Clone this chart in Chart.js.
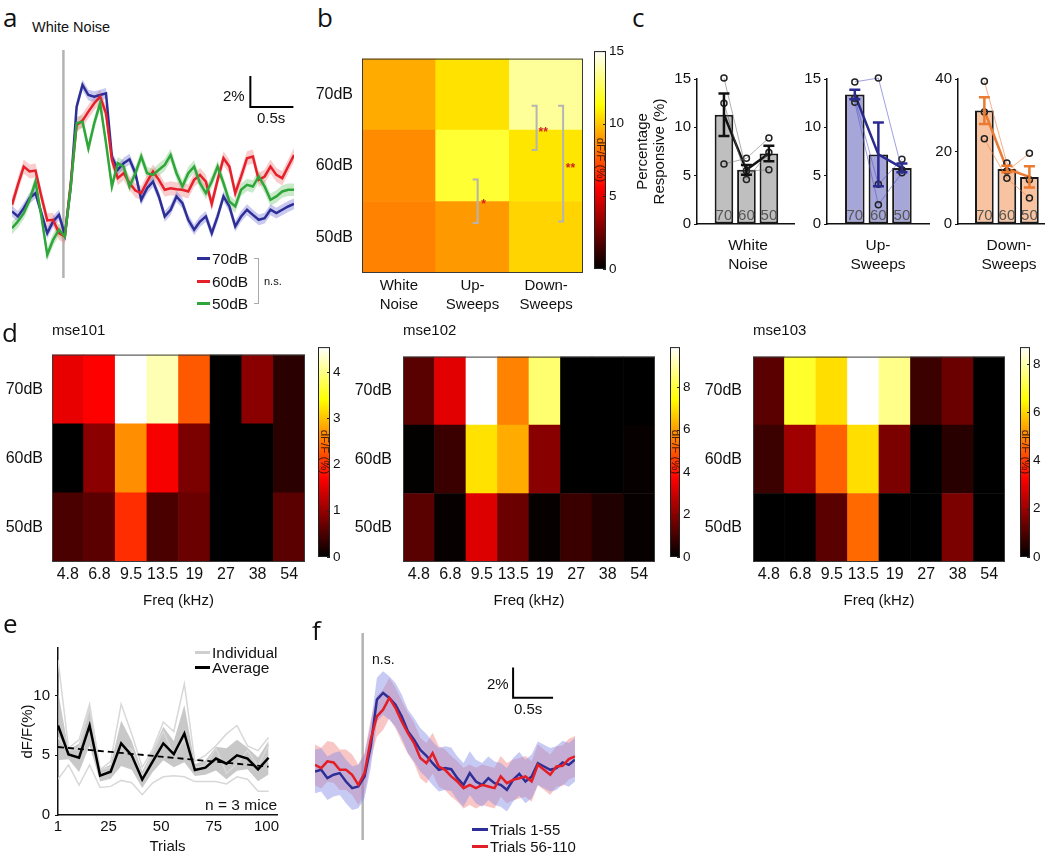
<!DOCTYPE html>
<html>
<head>
<meta charset="utf-8">
<title>Sound-evoked responses</title>
<script src="https://cdn.jsdelivr.net/npm/chart.js@4.4.1/dist/chart.umd.min.js"></script>
<style>
  html, body { margin: 0; padding: 0; background: #fff; }
  #fig { position: relative; width: 1050px; height: 858px; overflow: hidden;
         font-family: "Liberation Sans", Arial, sans-serif; color: #111; }
  #fig canvas { position: absolute; }
  .t { position: absolute; line-height: 1; white-space: nowrap; }
  .letter { font-family: "Open Sans", sans-serif; font-size: 26px; }
  .key { position: absolute; height: 0; border-top: 3px solid; }
  .cap { position: absolute; width: 120px; text-align: center; font-size: 15.5px; line-height: 19px; }
</style>
</head>
<body>
<div id="fig">
  <canvas id="chartA" width="282" height="228" style="left:12px;top:50px"></canvas>
  <canvas id="chartB" width="290" height="273" style="left:300px;top:40px"></canvas>
  <canvas id="barB" width="30" height="240" style="left:594px;top:40px"></canvas>
  <canvas id="chartC1" width="175" height="169" style="left:625px;top:67px"></canvas>
  <canvas id="chartC2" width="135" height="169" style="left:800px;top:67px"></canvas>
  <canvas id="chartC3" width="118" height="169" style="left:932px;top:67px"></canvas>
  <canvas id="chartD1" width="310" height="278" style="left:0px;top:336px"></canvas>
  <canvas id="barD1" width="30" height="232" style="left:318px;top:336px"></canvas>
  <canvas id="chartD2" width="315" height="278" style="left:345px;top:336px"></canvas>
  <canvas id="barD2" width="25" height="232" style="left:670px;top:336px"></canvas>
  <canvas id="chartD3" width="315" height="278" style="left:695px;top:336px"></canvas>
  <canvas id="barD3" width="28" height="232" style="left:1020px;top:336px"></canvas>
  <canvas id="chartE" width="285" height="224" style="left:0px;top:634px"></canvas>
  <canvas id="chartF" width="260" height="207" style="left:315px;top:633px"></canvas>

  <!-- panel letters -->
  <div class="t letter" style="left:3px;top:4px">a</div>
  <div class="t letter" style="left:317px;top:4px">b</div>
  <div class="t letter" style="left:632px;top:4px">c</div>
  <div class="t letter" style="left:2px;top:319px">d</div>
  <div class="t letter" style="left:3px;top:610px">e</div>
  <div class="t letter" style="left:312px;top:617px">f</div>

  <!-- a -->
  <div class="t" style="left:32px;top:20px;font-size:14.5px">White Noise</div>
  <div class="t" style="left:223px;top:88px;font-size:15px">2%</div>
  <div class="t" style="left:257px;top:110px;font-size:15px">0.5s</div>
  <div class="key" style="left:197px;top:257px;width:13px;border-color:#2d2f96"></div>
  <div class="key" style="left:197px;top:280px;width:13px;border-color:#e5202b"></div>
  <div class="key" style="left:197px;top:302px;width:13px;border-color:#2fa63a"></div>
  <div class="t" style="left:212px;top:251px;font-size:15.5px">70dB</div>
  <div class="t" style="left:212px;top:274px;font-size:15.5px">60dB</div>
  <div class="t" style="left:212px;top:296px;font-size:15.5px">50dB</div>
  <div style="position:absolute;left:254px;top:258px;width:4px;height:44px;border:1.5px solid #aaa;border-left:none"></div>
  <div class="t" style="left:264px;top:276px;font-size:11px">n.s.</div>

  <!-- c group captions -->
  <div class="cap" style="left:688px;top:235px">White<br>Noise</div>
  <div class="cap" style="left:818px;top:235px">Up-<br>Sweeps</div>
  <div class="cap" style="left:949px;top:235px">Down-<br>Sweeps</div>

  <!-- d titles -->
  <div class="t" style="left:52px;top:322px;font-size:15px">mse101</div>
  <div class="t" style="left:403px;top:322px;font-size:15px">mse102</div>
  <div class="t" style="left:753px;top:322px;font-size:15px">mse103</div>

  <!-- e legend -->
  <div class="key" style="left:195px;top:651px;width:15px;border-color:#cfcfcf"></div>
  <div class="key" style="left:195px;top:666px;width:15px;border-color:#000"></div>
  <div class="t" style="left:212px;top:645px;font-size:15.5px">Individual</div>
  <div class="t" style="left:212px;top:660px;font-size:15.5px">Average</div>
  <div class="t" style="right:773px;top:797px;font-size:15.5px">n = 3 mice</div>

  <!-- f -->
  <div class="t" style="left:372px;top:652px;font-size:14px">n.s.</div>
  <div class="t" style="left:487px;top:676px;font-size:15px">2%</div>
  <div class="t" style="left:514px;top:701px;font-size:15px">0.5s</div>
  <div class="key" style="left:472px;top:828px;width:16px;border-color:#2d2f96"></div>
  <div class="key" style="left:472px;top:845px;width:16px;border-color:#e41e26"></div>
  <div class="t" style="left:490px;top:822px;font-size:15px">Trials 1-55</div>
  <div class="t" style="left:490px;top:839px;font-size:15px">Trials 56-110</div>
</div>

<script>
// ----- a: white-noise traces, dF/F (%) per imaging frame -----
const traceA70 = [1.40, 1.08, 1.61, 2.26, 2.58, 1.29, 0.00, 0.75, 1.18, -0.11, 3.01, 8.17, 9.57, 8.92, 8.82, 8.92, 9.03, 4.95, 4.09, 4.52, 4.77, 3.87, 2.15, 2.90, 3.33, 2.37, 1.08, 1.51, 2.37, 1.94, 0.86, 0.22, 0.75, 1.08, 0.00, 1.08, 2.37, 1.72, 0.43, 1.08, 1.51, 1.18, 0.86, 0.97, 1.51, 1.29, 1.51, 1.72, 1.89];
const traceA60 = [1.83, 3.12, 4.30, 3.98, 4.04, 2.37, 0.82, 0.86, 0.00, -0.22, 3.23, 6.99, 7.27, 7.85, 8.39, 8.82, 7.74, 4.73, 3.55, 3.87, 3.23, 2.75, 2.58, 3.33, 3.98, 3.44, 2.80, 2.90, 2.84, 2.80, 2.69, 3.44, 3.76, 3.33, 1.89, 3.44, 4.84, 4.30, 2.58, 3.66, 4.84, 4.95, 3.44, 3.66, 4.30, 3.76, 3.55, 4.30, 5.05];
const traceA50 = [0.32, 0.75, 1.29, 2.15, 3.33, 1.08, -1.40, -0.43, 0.22, -0.22, 3.01, 7.10, 7.20, 5.48, 7.10, 8.39, 5.81, 3.01, 4.52, 4.30, 3.01, 3.87, 4.95, 3.87, 3.76, 4.09, 4.41, 5.05, 3.87, 3.01, 3.87, 4.30, 3.23, 2.58, 3.33, 4.30, 3.23, 2.04, 1.72, 2.80, 3.12, 3.01, 3.66, 3.01, 2.15, 2.37, 2.69, 2.80, 2.80];
const semA = [0.35, 0.45, 0.4];
const onsetFrameA = 8.75;
const framesPerSecA = 14.66;

// ----- b: mean response per sound type and level -----
const soundTypes = [["White", "Noise"], ["Up-", "Sweeps"], ["Down-", "Sweeps"]];
const dbLevels = ["70dB", "60dB", "50dB"];
const meanB70 = [9.4, 10.6, 13.5];
const meanB60 = [8.7, 12.0, 10.7];
const meanB50 = [8.5, 9.0, 10.3];
const maxB = 15;

// ----- c: percentage responsive -----
const levelLabels = ["70", "60", "50"];
const wnMean = [11.3, 5.6, 7.3];
const wnSem = [2.2, 0.5, 0.8];
const wnMice = [[15.1, 5.5, 5.6], [12.5, 4.6, 7.4], [6.2, 6.8, 8.9]];
const upMean = [13.4, 7.2, 5.8];
const upSem = [0.5, 3.3, 0.45];
const upMice = [[14.7, 15.1, 5.6], [13.0, 4.1, 6.7], [12.6, 2.0, 5.3]];
const downMean = [31.3, 15.2, 13.0];
const downSem = [3.7, 0.9, 2.9];
const downMice = [[39.4, 16.8, 12.2], [30.9, 14.6, 19.5], [23.5, 12.6, 7.2]];

// ----- d: frequency tuning per mouse (rows 70, 60, 50 dB) -----
const freqLabels = ["4.8", "6.8", "9.5", "13.5", "19", "27", "38", "54"];
const mse101 = [
  [1.55, 1.7, 4.54, 4.2, 2.3, 0, 0.92, 0.28],
  [0, 0.92, 2.65, 1.65, 0.82, 0, 0, 0.28],
  [0.5, 0.6, 2.0, 0.5, 0.71, 0, 0, 0.6],
];
const mse102 = [
  [1.3, 3.3, 9.9, 5.6, 8.5, 0, 0, 0],
  [0.05, 0.85, 7.0, 6.2, 2.0, 0, 0, 0.1],
  [1.3, 0.1, 3.2, 1.55, 0.1, 0.85, 0.46, 0.1],
];
const mse103 = [
  [1.15, 6.9, 6.1, 8.7, 7.7, 0.75, 1.36, 0],
  [0.75, 2.05, 4.5, 6.1, 1.57, 0, 0.52, 0],
  [0, 0, 1.15, 4.6, 0, 0, 1.57, 0],
];
const maxD = [4.54, 9.9, 8.7];

// ----- e: response across trials -----
const trialsE = [1, 6, 11, 16, 21, 26, 31, 36, 41, 46, 51, 56, 61, 66, 71, 76, 81, 86, 91, 96, 101];
const avgE = [7.5, 5.07, 4.8, 7.5, 3.3, 3.63, 6.0, 5.0, 2.97, 4.5, 6.0, 5.1, 6.83, 3.77, 3.97, 4.73, 4.3, 5.0, 4.73, 3.83, 4.8];
const semE = [2.9, 0.4, 1.2, 1.7, 0.5, 0.6, 1.9, 1.2, 0.7, 0.9, 1.4, 1.1, 2.4, 0.5, 0.6, 1.0, 1.3, 1.3, 0.9, 1.0, 1.4];
const mouse1E = [13.0, 5.6, 6.3, 9.3, 3.8, 4.5, 9.3, 6.8, 4.0, 5.5, 7.8, 7.0, 11.0, 4.5, 5.0, 5.8, 6.8, 7.5, 5.8, 5.4, 6.5];
const mouse2E = [6.5, 5.4, 5.6, 9.0, 3.8, 4.0, 5.8, 5.5, 3.2, 5.3, 7.0, 5.0, 6.3, 4.0, 4.1, 5.6, 3.5, 4.3, 5.4, 4.1, 5.9];
const mouse3E = [3.0, 4.2, 2.5, 4.2, 2.3, 2.4, 2.9, 2.7, 1.7, 2.7, 3.2, 3.3, 3.2, 2.8, 2.8, 2.8, 2.6, 3.2, 3.0, 2.0, 2.0];
const trendTrials = [1, 101];
const trendValues = [5.7, 4.05];
const trialTicks = [1, 25, 50, 75, 100];

// ----- f: early vs late trials -----
const traceF1 = [1.89, 2.00, 1.44, 1.67, 1.78, 1.22, 0.78, 0.89, 1.56, 3.56, 6.67, 7.11, 6.78, 6.33, 5.56, 4.56, 4.00, 3.33, 2.93, 2.44, 2.00, 2.11, 2.04, 1.44, 1.00, 1.78, 1.22, 1.00, 1.44, 1.11, 1.00, 0.67, 1.33, 1.73, 1.22, 1.56, 2.44, 2.22, 2.00, 2.11, 2.49, 2.33, 2.67];
const traceF2 = [2.33, 2.11, 2.56, 2.49, 2.00, 2.00, 1.67, 1.00, 1.78, 4.00, 5.56, 6.00, 6.78, 6.11, 5.22, 4.44, 3.78, 2.78, 2.44, 3.11, 2.22, 2.00, 1.56, 1.22, 0.78, 1.00, 0.78, 1.00, 0.89, 0.78, 1.56, 1.11, 1.33, 1.44, 1.56, 1.22, 2.33, 2.00, 1.67, 2.22, 2.27, 2.71, 2.89];
const semF = [1.45, 1.35];
const onsetFrameF = 7.7;
const framesPerSecF = 12.92;

(function () {
  "use strict";

  const FONT = '"Liberation Sans", Arial, sans-serif';
  Chart.defaults.font.family = FONT;
  Chart.defaults.font.size = 15;
  Chart.defaults.color = "#111";
  Chart.defaults.animation = false;
  Chart.defaults.responsive = false;
  Chart.defaults.maintainAspectRatio = false;
  Chart.defaults.devicePixelRatio = 1;
  Chart.defaults.plugins.legend.display = false;
  Chart.defaults.plugins.tooltip.enabled = false;
  Chart.defaults.elements.point.radius = 0;
  Chart.defaults.elements.line.tension = 0;

  const el = (id) => document.getElementById(id);
  const fixWidth = (w) => (scale) => { scale.width = w; };
  const fixHeight = (h) => (scale) => { scale.height = h; };
  const xy = (xs, ys) => ys.map((y, i) => ({ x: xs[i], y }));

  /** MATLAB "hot" colormap, f in [0, 1]. */
  function hot(f) {
    const c = (v) => Math.round(255 * Math.min(1, Math.max(0, v)));
    return `rgb(${c(f * 8 / 3)}, ${c((f - 3 / 8) * 8 / 3)}, ${c((f - 3 / 4) * 4)})`;
  }

  function hotGradient(chart) {
    const a = chart.chartArea;
    if (!a) return "#000";
    const g = chart.ctx.createLinearGradient(0, a.bottom, 0, a.top);
    for (let i = 0; i <= 32; i++) g.addColorStop(i / 32, hot(i / 32));
    return g;
  }

  // ----- Plugins -----

  // Frame round the plot area; optional inward ticks and rotated label (colorbars)
  const framePlugin = {
    id: "frame",
    afterDatasetsDraw(chart, args, opts) {
      const { ctx, chartArea: a } = chart;
      ctx.save();
      ctx.strokeStyle = opts.color || "#333";
      ctx.lineWidth = 1;
      ctx.strokeRect(a.left + 0.5, a.top + 0.5, a.width - 1, a.height - 1);
      if (opts.inTicks) {
        const ys = chart.scales.y;
        ctx.beginPath();
        ys.ticks.forEach((t) => {
          const y = Math.round(ys.getPixelForValue(t.value)) + 0.5;
          ctx.moveTo(a.right - 3, y);
          ctx.lineTo(a.right, y);
        });
        ctx.stroke();
      }
      if (opts.label) {
        ctx.translate((a.left + a.right) / 2, (a.top + a.bottom) / 2);
        ctx.rotate(Math.PI / 2);
        ctx.fillStyle = "rgba(40, 10, 10, 0.85)";
        ctx.font = "11.5px " + FONT;
        ctx.textAlign = "center";
        ctx.textBaseline = "middle";
        ctx.fillText(opts.label, 0, 0);
      }
      ctx.restore();
    },
  };

  // Stimulus onset line and scale bar for the trace panels
  const traceDecorPlugin = {
    id: "traceDecor",
    beforeDatasetsDraw(chart, args, opts) {
      const { ctx, chartArea: a } = chart;
      const x = chart.scales.x.getPixelForValue(opts.onset);
      ctx.save();
      ctx.strokeStyle = "#b3b3b3";
      ctx.lineWidth = 2.5;
      ctx.beginPath();
      ctx.moveTo(x, a.top);
      ctx.lineTo(x, a.bottom);
      ctx.stroke();
      ctx.restore();
    },
    afterDatasetsDraw(chart, args, opts) {
      const { ctx } = chart;
      const xs = chart.scales.x;
      const ys = chart.scales.y;
      const b = opts.bar;
      const x0 = xs.getPixelForValue(b.x);
      const x1 = xs.getPixelForValue(b.x + b.dx);
      const y0 = ys.getPixelForValue(b.y);
      const y1 = ys.getPixelForValue(b.y + b.dy);
      ctx.save();
      ctx.strokeStyle = "#000";
      ctx.lineWidth = 2;
      ctx.beginPath();
      ctx.moveTo(x0, y1);
      ctx.lineTo(x0, y0);
      ctx.lineTo(x1, y0);
      ctx.stroke();
      ctx.restore();
    },
  };

  // Significance brackets on the panel b heatmap
  const bracketPlugin = {
    id: "brackets",
    afterDatasetsDraw(chart, args, opts) {
      const { ctx } = chart;
      const xs = chart.scales.x;
      const ys = chart.scales.y;
      ctx.save();
      opts.items.forEach((b) => {
        const x = xs.getPixelForValue(b.x);
        const y0 = ys.getPixelForValue(b.y0);
        const y1 = ys.getPixelForValue(b.y1);
        ctx.strokeStyle = "#b4b4b4";
        ctx.lineWidth = 2;
        ctx.beginPath();
        ctx.moveTo(x - 5, y0);
        ctx.lineTo(x, y0);
        ctx.lineTo(x, y1);
        ctx.lineTo(x - 5, y1);
        ctx.stroke();
        ctx.fillStyle = "#d42020";
        ctx.font = "bold 12px " + FONT;
        ctx.textAlign = "center";
        ctx.textBaseline = "middle";
        ctx.fillText(b.mark, xs.getPixelForValue(b.lx), ys.getPixelForValue(b.ly));
      });
      ctx.restore();
    },
  };

  // SEM error bars and level labels for panel c
  const groupDecorPlugin = {
    id: "groupDecor",
    afterDatasetsDraw(chart, args, opts) {
      const { ctx, chartArea: a } = chart;
      const xs = chart.scales.x;
      const ys = chart.scales.y;
      ctx.save();
      ctx.fillStyle = "#555";
      ctx.font = "15px " + FONT;
      ctx.textAlign = "center";
      ctx.textBaseline = "middle";
      opts.labels.forEach((t, i) => ctx.fillText(t, xs.getPixelForValue(i + 1), a.bottom - 8));
      ctx.strokeStyle = opts.color;
      ctx.lineWidth = 2.5;
      opts.mean.forEach((m, i) => {
        const x = xs.getPixelForValue(i + 1);
        const hi = ys.getPixelForValue(m + opts.sem[i]);
        const lo = ys.getPixelForValue(m - opts.sem[i]);
        ctx.beginPath();
        ctx.moveTo(x, hi);
        ctx.lineTo(x, lo);
        ctx.moveTo(x - 5.5, hi);
        ctx.lineTo(x + 5.5, hi);
        ctx.moveTo(x - 5.5, lo);
        ctx.lineTo(x + 5.5, lo);
        ctx.stroke();
      });
      ctx.restore();
    },
  };

  // ----- Builders -----

  function traceChart(id, series, yMin, yMax, decor) {
    const datasets = [];
    series.forEach((s) => {
      datasets.push({ data: s.data, borderColor: s.color, borderWidth: 2.5, fill: false, order: s.order });
    });
    series.forEach((s) => {
      datasets.push({ data: s.data.map((v) => v + s.sem), borderWidth: 0, backgroundColor: s.band, fill: "+1", order: 10 });
      datasets.push({ data: s.data.map((v) => v - s.sem), borderWidth: 0, fill: false, order: 10 });
    });
    return new Chart(el(id), {
      type: "line",
      data: { labels: series[0].data.map((_, i) => i), datasets },
      options: {
        layout: { padding: 0 },
        scales: {
          x: { display: false, offset: false },
          y: { display: false, min: yMin, max: yMax },
        },
        plugins: { traceDecor: decor },
      },
      plugins: [traceDecorPlugin],
    });
  }

  function heatmapChart(id, cols, rows, vmax, o) {
    const datasets = rows.slice().reverse().map((vals) => ({
      data: vals.map(() => 1),
      backgroundColor: vals.map((v) => hot(v / vmax)),
      borderWidth: 0,
      barPercentage: 1,
      categoryPercentage: 1,
    }));
    const xScale = {
      stacked: true,
      grid: { display: false, drawTicks: false },
      border: { display: false },
      ticks: { padding: o.tickPad, maxRotation: 0, autoSkip: false, font: o.xFont },
      afterFit: fixHeight(o.axisHeight),
    };
    if (o.xTitle) xScale.title = { display: true, text: o.xTitle, font: { size: 15 }, padding: { top: 4, bottom: 4 } };
    return new Chart(el(id), {
      type: "bar",
      data: { labels: cols, datasets },
      options: {
        layout: { padding: { top: o.padTop, right: o.padRight, left: 0, bottom: 0 } },
        scales: {
          x: xScale,
          y: {
            stacked: true,
            min: 0,
            max: rows.length,
            grid: { display: false, drawTicks: false },
            border: { display: false },
            ticks: { padding: o.yPad, font: { size: 16 }, callback: (v) => dbLevels[rows.length - 1 - Math.floor(v)] },
            afterBuildTicks: (s) => { s.ticks = [0.5, 1.5, 2.5].map((value) => ({ value })); },
            afterFit: fixWidth(o.axisWidth),
          },
        },
        plugins: { frame: { color: "#3a3a3a" }, brackets: o.brackets || { items: [] } },
      },
      plugins: [framePlugin, bracketPlugin],
    });
  }

  function colorbarChart(id, vmax, step, pad, axisWidth) {
    return new Chart(el(id), {
      type: "bar",
      data: {
        labels: [""],
        datasets: [{
          data: [[0, vmax]],
          barPercentage: 1,
          categoryPercentage: 1,
          borderWidth: 0,
          backgroundColor: (c) => hotGradient(c.chart),
        }],
      },
      options: {
        layout: { padding: { top: pad, bottom: pad, left: 0, right: 0 } },
        scales: {
          x: { display: false },
          y: {
            position: "right",
            min: 0,
            max: vmax,
            grid: { display: false, drawTicks: false },
            border: { display: false },
            ticks: { stepSize: step, padding: 3, includeBounds: false, font: { size: 13.5 } },
            afterFit: fixWidth(axisWidth),
          },
        },
        plugins: { frame: { color: "#222", inTicks: true, label: "dF/F (%)" } },
      },
      plugins: [framePlugin],
    });
  }

  function groupChart(id, g) {
    const pts = (vals) => vals.map((y, i) => ({ x: i + 1, y }));
    const datasets = [
      { type: "bar", data: pts(g.mean), backgroundColor: g.fill, borderColor: "#1a1a1a", borderWidth: 2,
        borderSkipped: false, barPercentage: 0.83, categoryPercentage: 1, order: 5 },
      { type: "line", data: pts(g.mean), borderColor: g.dark, borderWidth: 2.5, pointRadius: 0, order: 3 },
    ];
    g.mice.forEach((m) => {
      datasets.push({ type: "line", data: pts(m), borderColor: g.thin, borderWidth: 1, pointRadius: 3,
        pointBorderWidth: 1.5, pointBorderColor: "#222", pointBackgroundColor: "rgba(0,0,0,0)", clip: false, order: 2 });
    });
    const yScale = {
      min: 0,
      max: g.yMax,
      ticks: { stepSize: g.step, padding: 3, includeBounds: false },
      grid: { drawOnChartArea: false, tickLength: 3, color: "#111" },
      border: { color: "#111", width: 1.5 },
      afterFit: fixWidth(g.axisWidth),
    };
    if (g.yTitle) {
      yScale.title = { display: true, text: g.yTitle, font: { size: 15, lineHeight: 1.15 }, padding: { top: 9, bottom: 4 } };
    }
    return new Chart(el(id), {
      type: "bar",
      data: { datasets },
      options: {
        layout: { padding: { top: 10, right: g.padRight, left: 0, bottom: 0 } },
        scales: {
          x: { type: "linear", min: g.xMin, max: g.xMax, offset: false,
               grid: { display: false, drawTicks: false }, ticks: { display: false },
               border: { color: "#111", width: 1.5 }, afterFit: fixHeight(6) },
          y: yScale,
        },
        plugins: { groupDecor: { labels: levelLabels, mean: g.mean, sem: g.sem, color: g.dark } },
      },
      plugins: [groupDecorPlugin],
    });
  }

  // ----- a -----
  traceChart("chartA", [
    { data: traceA70, sem: semA[0], color: "#2d2f96", band: "rgba(120,120,215,0.4)", order: 3 },
    { data: traceA60, sem: semA[1], color: "#e5202b", band: "rgba(240,130,130,0.4)", order: 2 },
    { data: traceA50, sem: semA[2], color: "#2fa63a", band: "rgba(120,200,120,0.4)", order: 1 },
  ], -2.9, 11.83, { onset: onsetFrameA, bar: { x: 40.57, y: 8.15, dx: 0.5 * framesPerSecA, dy: 2 } });

  // ----- b -----
  heatmapChart("chartB", soundTypes, [meanB70, meanB60, meanB50], maxB, {
    padTop: 11, padRight: 7, axisWidth: 62, axisHeight: 40, yPad: 9, tickPad: 3,
    xFont: { size: 15, lineHeight: 1.27 },
    brackets: {
      items: [
        { x: 1.87, y0: 2.34, y1: 1.72, mark: "**", lx: 1.96, ly: 1.97 },
        { x: 2.23, y0: 2.34, y1: 0.72, mark: "**", lx: 2.33, ly: 1.46 },
        { x: 1.07, y0: 1.31, y1: 0.70, mark: "*", lx: 1.15, ly: 0.96 },
      ],
    },
  });
  colorbarChart("barB", maxB, 5, 11, 18);

  // ----- c -----
  groupChart("chartC1", { mean: wnMean, sem: wnSem, mice: wnMice, fill: "#bfbfbf", dark: "#111",
    thin: "rgba(110,110,110,0.55)", yMax: 15, step: 5, xMin: -0.2, xMax: 4.14, axisWidth: 72, padRight: 0,
    yTitle: ["Percentage", "Responsive (%)"] });
  groupChart("chartC2", { mean: upMean, sem: upSem, mice: upMice, fill: "#a6a6d8", dark: "#2b2b8f",
    thin: "rgba(80,80,200,0.55)", yMax: 15, step: 5, xMin: -0.18, xMax: 4.17, axisWidth: 27, padRight: 5 });
  groupChart("chartC3", { mean: downMean, sem: downSem, mice: downMice, fill: "#f7c3a0", dark: "#ea7a30",
    thin: "rgba(240,130,70,0.65)", yMax: 40, step: 20, xMin: -0.17, xMax: 3.67, axisWidth: 26, padRight: 0 });

  // ----- d -----
  const dOpts = { padTop: 6, padRight: 5, axisHeight: 52, tickPad: 3, xFont: { size: 16 }, xTitle: "Freq (kHz)" };
  heatmapChart("chartD1", freqLabels, mse101, maxD[0], Object.assign({ axisWidth: 52, yPad: 9 }, dOpts));
  heatmapChart("chartD2", freqLabels, mse102, maxD[1], Object.assign({ axisWidth: 58, yPad: 11 }, dOpts));
  heatmapChart("chartD3", freqLabels, mse103, maxD[2], Object.assign({ axisWidth: 58, yPad: 11 }, dOpts));
  colorbarChart("barD1", maxD[0], 1, 6, 18);
  colorbarChart("barD2", maxD[1], 2, 6, 15);
  colorbarChart("barD3", maxD[2], 2, 6, 18);

  // ----- e -----
  new Chart(el("chartE"), {
    type: "line",
    data: {
      datasets: [
        { data: xy(trialsE, avgE), borderColor: "#000", borderWidth: 2.5, order: 1 },
        { data: xy(trendTrials, trendValues), borderColor: "#000", borderWidth: 1.8, borderDash: [6, 4], order: 2 },
        { data: xy(trialsE, mouse1E), borderColor: "#d8d8d8", borderWidth: 1.5, order: 3 },
        { data: xy(trialsE, mouse2E), borderColor: "#d8d8d8", borderWidth: 1.5, order: 3 },
        { data: xy(trialsE, mouse3E), borderColor: "#d8d8d8", borderWidth: 1.5, order: 3 },
        { data: xy(trialsE, avgE.map((v, i) => v + semE[i])), borderWidth: 0, backgroundColor: "rgba(170,170,170,0.65)", fill: "+1", order: 4 },
        { data: xy(trialsE, avgE.map((v, i) => v - semE[i])), borderWidth: 0, fill: false, order: 4 },
      ],
    },
    options: {
      layout: { padding: { top: 10, right: 8, left: 0, bottom: 0 } },
      scales: {
        x: {
          type: "linear", min: 1, max: 105,
          afterBuildTicks: (s) => { s.ticks = trialTicks.map((value) => ({ value })); },
          grid: { drawOnChartArea: false, drawTicks: false },
          border: { color: "#111", width: 1.5 },
          ticks: { padding: 3 },
          title: { display: true, text: "Trials", padding: { top: 4, bottom: 2 } },
          afterFit: fixHeight(43),
        },
        y: {
          min: 0, max: 14,
          ticks: { stepSize: 5, includeBounds: false, padding: 5 },
          grid: { drawOnChartArea: false, tickLength: 3, color: "#111" },
          border: { color: "#111", width: 1.5 },
          title: { display: true, text: "dF/F(%)", padding: { top: 19, bottom: 4 } },
          afterFit: fixWidth(58),
        },
      },
    },
  });

  // ----- f -----
  traceChart("chartF", [
    { data: traceF1, sem: semF[0], color: "#2d2f96", band: "rgba(130,140,230,0.45)", order: 2 },
    { data: traceF2, sem: semF[1], color: "#e41e26", band: "rgba(240,120,120,0.42)", order: 1 },
  ], -2.67, 11.1, { onset: onsetFrameF, bar: { x: 32.0, y: 6.8, dx: 0.5 * framesPerSecF, dy: 2 } });
})();
</script>
</body>
</html>
